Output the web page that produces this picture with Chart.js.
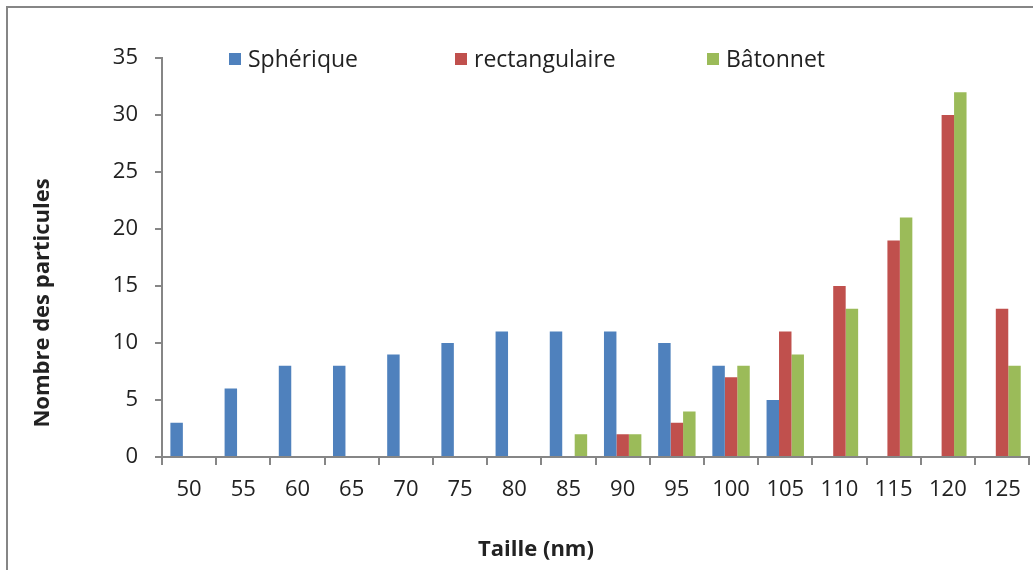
<!DOCTYPE html>
<html lang="fr">
<head>
    <meta charset="UTF-8">
    <title>Taille des particules</title>
    <script src="https://cdn.jsdelivr.net/npm/chart.js"></script>
    <style>
        html, body { margin: 0; padding: 0; background: #fff; }
        #wrap { position: relative; width: 1033px; height: 570px; }
    </style>
</head>
<body>
<div id="wrap"><canvas id="barChart"></canvas></div>
<script>
    // data
    const tailles = ['50', '55', '60', '65', '70', '75', '80', '85', '90', '95', '100', '105', '110', '115', '120', '125'];
    const spherique = [3, 6, 8, 8, 9, 10, 11, 11, 11, 10, 8, 5, 0, 0, 0, 0];
    const rectangulaire = [0, 0, 0, 0, 0, 0, 0, 0, 2, 3, 7, 11, 15, 19, 30, 13];
    const batonnet = [0, 0, 0, 0, 0, 0, 0, 2, 2, 4, 8, 9, 13, 21, 32, 8];
    const seriesNames = ['Sphérique', 'rectangulaire', 'Bâtonnet'];
    const seriesColors = ['#4F81BD', '#C0504D', '#9BBB59'];

    const axisGray = '#868686';
    const font = '"Open Sans", sans-serif';

    // frame, legend and axis titles drawn like the excel original
    const decor = {
        id: 'decor',
        beforeDraw(chart) {
            const ctx = chart.ctx;
            ctx.save();
            ctx.fillStyle = '#fff';
            ctx.fillRect(0, 0, chart.width, chart.height);
            ctx.strokeStyle = axisGray;
            ctx.lineWidth = 2;
            ctx.beginPath();
            ctx.moveTo(7, chart.height);
            ctx.lineTo(7, 7);
            ctx.lineTo(chart.width, 7);
            ctx.stroke();
            ctx.restore();
        },
        afterDraw(chart) {
            const ctx = chart.ctx;
            ctx.save();
            // legend
            const starts = [229, 455, 707];
            ctx.font = '23px ' + font;
            ctx.textBaseline = 'middle';
            ctx.textAlign = 'left';
            chart.data.datasets.forEach((ds, i) => {
                ctx.fillStyle = ds.backgroundColor;
                ctx.fillRect(starts[i], 53, 12, 12);
                ctx.fillStyle = '#222';
                ctx.fillText(ds.label, starts[i] + 19, 60);
            });
            // axis titles
            ctx.font = 'bold 22px ' + font;
            ctx.textAlign = 'center';
            ctx.fillText('Taille (nm)', 536, 550);
            ctx.translate(43, 303);
            ctx.rotate(-Math.PI / 2);
            ctx.fillText('Nombre des particules', 0, 0);
            ctx.restore();
        }
    };

    new Chart(document.getElementById('barChart'), {
        type: 'bar',
        data: {
            labels: tailles,
            datasets: [
                { label: seriesNames[0], data: spherique, backgroundColor: seriesColors[0] },
                { label: seriesNames[1], data: rectangulaire, backgroundColor: seriesColors[1] },
                { label: seriesNames[2], data: batonnet, backgroundColor: seriesColors[2] }
            ]
        },
        options: {
            responsive: true,
            maintainAspectRatio: false,
            animation: false,
            categoryPercentage: 0.69,
            barPercentage: 1.0,
            layout: { padding: { top: 58, right: 3, left: 0, bottom: 0 } },
            plugins: {
                legend: { display: false },
                tooltip: { enabled: false }
            },
            scales: {
                x: {
                    afterFit: s => { s.height = 113; },
                    grid: { display: true, drawOnChartArea: false, color: axisGray, tickLength: 8, lineWidth: 2 },
                    border: { color: axisGray, width: 2 },
                    ticks: { color: '#222', padding: 12, maxRotation: 0, font: { family: font, size: 22 } }
                },
                y: {
                    min: 0,
                    max: 35,
                    afterFit: s => { s.width = 162; },
                    grid: { display: true, drawOnChartArea: false, color: axisGray, tickLength: 7, lineWidth: 2 },
                    border: { color: axisGray, width: 2 },
                    ticks: { stepSize: 5, color: '#222', padding: 17, font: { family: font, size: 22 } }
                }
            }
        },
        plugins: [decor]
    });
</script>
</body>
</html>
